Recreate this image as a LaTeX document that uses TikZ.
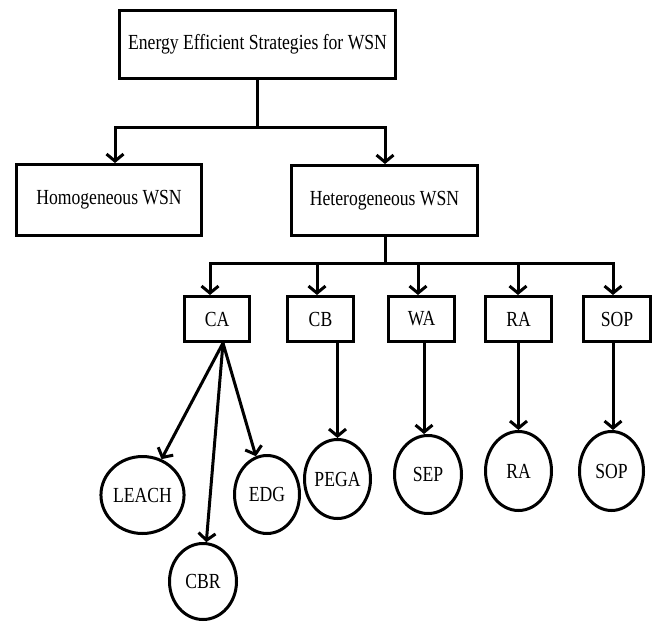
\documentclass[tikz,border=0pt]{standalone}
\usepackage{fontspec}
\setmainfont{Liberation Serif}[FakeStretch=0.82]
\usetikzlibrary{arrows.meta,shapes.geometric}
\tikzset{
  box/.style={draw, rectangle, line width=3pt, inner sep=0pt, font=\fontsize{21.5}{25}\selectfont},
  oval/.style={draw, ellipse, line width=3pt, inner sep=0pt, font=\fontsize{21.5}{25}\selectfont},
  link/.style={line width=3pt},
  arr/.style={line width=3pt, -{Straight Barb[length=7pt,width=17pt]}},
}
\begin{document}
\begin{tikzpicture}[x=1pt,y=1pt]
\useasboundingbox (0,0) rectangle (653,-621);
% boxes
\node[box, minimum width=276pt, minimum height=68pt] (top) at (257.5,-44.5) {Energy Efficient Strategies for WSN};
\node[box, minimum width=185pt, minimum height=71pt] (homo) at (109,-200) {Homogeneous WSN};
\node[box, minimum width=186pt, minimum height=70pt] (het) at (384.5,-200.5) {Heterogeneous WSN};
\node[box, minimum width=65pt, minimum height=45pt] (CA) at (217,-319) {CA};
\node[box, minimum width=66pt, minimum height=45pt] (CB) at (320.5,-319) {CB};
\node[box, minimum width=66pt, minimum height=45pt] (WA) at (421.5,-319) {WA};
\node[box, minimum width=66pt, minimum height=45pt] (RA) at (518.5,-319) {RA};
\node[box, minimum width=67pt, minimum height=45pt] (SOP) at (617,-319) {SOP};
% ellipses
\node[oval, minimum width=66pt, minimum height=77pt] (LEACH) at (142.5,-495) {LEACH};
\node[oval, minimum width=67pt, minimum height=76pt] (CBR) at (203,-581.5) {CBR};
\node[oval, minimum width=65pt, minimum height=78pt] (EDG) at (267,-494.5) {EDG};
\node[oval, minimum width=66pt, minimum height=79pt] (PEGA) at (337.5,-479) {PEGA};
\node[oval, minimum width=67pt, minimum height=78pt] (SEP) at (428,-474.5) {SEP};
\node[oval, minimum width=66pt, minimum height=79pt] (RAe) at (518.5,-471) {RA};
\node[oval, minimum width=64pt, minimum height=79pt] (SOPe) at (611.5,-471) {SOP};
% junction coordinates
\coordinate (j1) at (257.5,-127);
\coordinate (h1) at (115,-127);
\coordinate (h2) at (385,-127);
\coordinate (j2) at (385,-263);
\coordinate (c1) at (210,-263);
\coordinate (c2) at (317,-263);
\coordinate (c3) at (418,-263);
\coordinate (c4) at (518,-263);
\coordinate (c5) at (613,-263);
\coordinate (ca) at (223,-343);
% top level
\draw[link] (top.south) -- (j1);
\draw[link, line cap=rect] (h1) -- (h2);
\draw[arr] (h1) -- (h1 |- homo.north);
\draw[arr] (h2) -- (h2 |- het.north);
% second level
\draw[link] (het.south -| j2) -- (j2);
\draw[link, line cap=rect] (c1) -- (c5);
\draw[arr] (c1) -- (c1 |- CA.north);
\draw[arr] (c2) -- (c2 |- CB.north);
\draw[arr] (c3) -- (c3 |- WA.north);
\draw[arr] (c4) -- (c4 |- RA.north);
\draw[arr] (c5) -- (c5 |- SOP.north);
% leaves
\draw[arr] (ca) -- (LEACH);
\draw[arr] (ca) -- (CBR);
\draw[arr] (ca) -- (EDG);
\draw[arr] (PEGA.north |- CB.south) -- (PEGA.north);
\draw[arr] ([xshift=2.5pt]WA.south) -- ([xshift=2.5pt]WA.south |- SEP.north);
\draw[arr] (RAe.north |- RA.south) -- (RAe.north);
\draw[arr] (c5 |- SOP.south) -- (c5 |- SOPe.north);
\end{tikzpicture}
\end{document}
